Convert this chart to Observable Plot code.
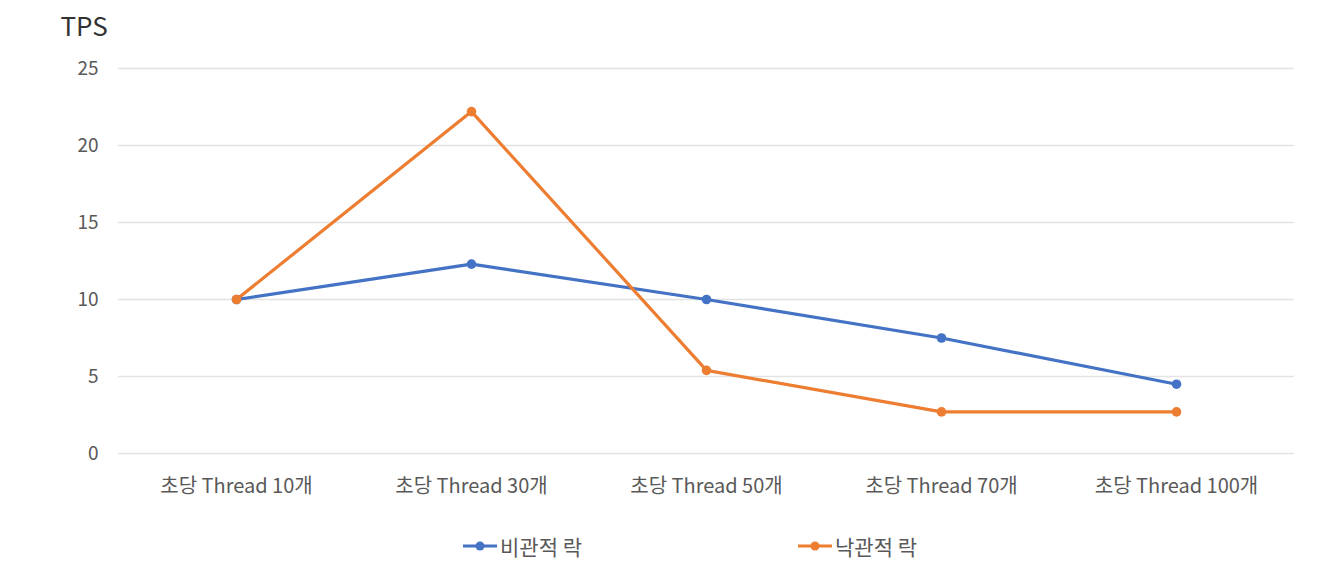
<!DOCTYPE html>
<html><head><meta charset="utf-8">
<script src="https://cdn.jsdelivr.net/npm/d3@7"></script>
<script src="https://cdn.jsdelivr.net/npm/@observablehq/plot@0.6"></script>
<style>
body{margin:0;background:#fff;font-family:"Noto Sans CJK KR","Noto Sans",sans-serif;}
#wrap{position:relative;width:1340px;height:565px;}
.leg{position:absolute;top:531px;display:flex;align-items:center;font-size:21px;color:#595959;}
.leg svg{margin-right:2px;}
</style></head>
<body><div id="wrap"></div>
<script>
const categories = ["초당 Thread 10개","초당 Thread 30개","초당 Thread 50개","초당 Thread 70개","초당 Thread 100개"];
const pessimistic = [10, 12.3, 10, 7.5, 4.5];
const optimistic = [10, 22.2, 5.4, 2.7, 2.7];
const seriesNames = ["비관적 락","낙관적 락"];
const colors = ["#4472C4","#ED7D31"];
const yTicks = [0,5,10,15,20,25];

const data = [];
categories.forEach((c,i)=>{
  data.push({cat:c, v:pessimistic[i], s:seriesNames[0]});
  data.push({cat:c, v:optimistic[i], s:seriesNames[1]});
});

const chart = Plot.plot({
  width:1340, height:515,
  marginLeft:118, marginRight:46, marginTop:68, marginBottom:62,
  style:{fontFamily:'"Noto Sans CJK KR","Noto Sans",sans-serif', fontSize:"19px", color:"#595959", background:"transparent"},
  x:{type:"point", domain:categories, padding:0.5, label:null},
  y:{domain:[0,25], label:null},
  color:{domain:seriesNames, range:colors},
  marks:[
    Plot.gridY(yTicks,{stroke:"#e3e3e3", strokeOpacity:1, strokeWidth:1.3}),
    Plot.axisY(yTicks,{tickSize:0, tickPadding:20, fontSize:19, fill:"#595959", label:null}),
    Plot.axisX({tickSize:0, tickPadding:25, fontSize:20, fill:"#595959", label:null}),
    Plot.line(data,{x:"cat", y:"v", stroke:"s", strokeWidth:3.2}),
    Plot.dot(data,{x:"cat", y:"v", fill:"s", r:4.8}),
    Plot.text(["TPS"],{frameAnchor:"top-left", dx:-58, dy:-51, fontSize:26, fill:"#333", textAnchor:"start"})
  ]
});
const wrap = document.getElementById("wrap");
wrap.appendChild(chart);

const legPos = [463, 798];
seriesNames.forEach((n,i)=>{
  const d = document.createElement("div");
  d.className="leg";
  d.style.left = legPos[i]+"px";
  d.innerHTML = `<svg width="35" height="12"><line x1="0" y1="6" x2="34" y2="6" stroke="${colors[i]}" stroke-width="3"/><circle cx="17" cy="6" r="4.5" fill="${colors[i]}"/></svg><span>${n}</span>`;
  wrap.appendChild(d);
});
</script></body></html>
